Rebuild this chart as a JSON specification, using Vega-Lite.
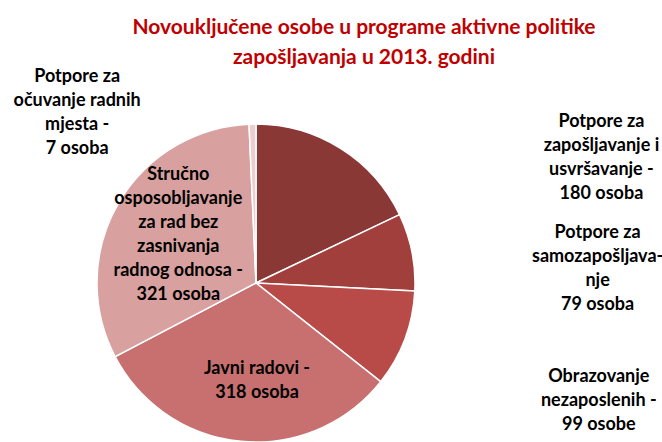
{
  "$schema": "https://vega.github.io/schema/vega-lite/v6.json",
  "width": 512,
  "height": 318,
  "autosize": {"type": "none"},
  "padding": {"left": 0, "top": 124, "right": 150, "bottom": 0},
  "background": "white",
  "config": {"view": {"stroke": null}},
  "title": {
    "text": ["Novouključene osobe u programe aktivne politike", "zapošljavanja u 2013. godini"],
    "color": "#C00000",
    "font": "Lato",
    "fontSize": 21,
    "fontWeight": "bold",
    "anchor": "middle",
    "dx": 108,
    "dy": 29,
    "lineHeight": 30,
    "offset": 29
  },
  "data": {
    "values": [
      {"kategorija": "Potpore za zapošljavanje i usavršavanje", "osobe": 180, "red": 1, "label": ["Potpore za", "zapošljavanje  i", "usvršavanje -", "180 osoba"]},
      {"kategorija": "Potpore za samozapošljavanje", "osobe": 79, "red": 2, "label": ["Potpore za", "samozapošljava-", "nje", "79 osoba"]},
      {"kategorija": "Obrazovanje nezaposlenih", "osobe": 99, "red": 3, "label": ["Obrazovanje", "nezaposlenih  -", "99 osobe"]},
      {"kategorija": "Javni radovi", "osobe": 318, "red": 4, "label": ["Javni radovi -", "318 osoba"]},
      {"kategorija": "Stručno osposobljavanje za rad bez zasnivanja radnog odnosa", "osobe": 321, "red": 5, "label": ["Stručno", "osposobljavanje", "za rad bez", "zasnivanja", "radnog odnosa -", "321 osoba"]},
      {"kategorija": "Potpore za očuvanje radnih mjesta", "osobe": 7, "red": 6, "label": ["Potpore za", "očuvanje radnih", "mjesta -", "7 osoba"]}
    ]
  },
  "encoding": {
    "theta": {"field": "osobe", "type": "quantitative", "stack": true},
    "order": {"field": "red", "type": "quantitative"}
  },
  "layer": [
    {
      "mark": {"type": "arc", "outerRadius": 159, "stroke": "white", "strokeWidth": 1.5},
      "encoding": {
        "color": {
          "field": "kategorija",
          "type": "nominal",
          "legend": null,
          "scale": {
            "domain": [
              "Potpore za zapošljavanje i usavršavanje",
              "Potpore za samozapošljavanje",
              "Obrazovanje nezaposlenih",
              "Javni radovi",
              "Stručno osposobljavanje za rad bez zasnivanja radnog odnosa",
              "Potpore za očuvanje radnih mjesta"
            ],
            "range": ["#8A3836", "#A13F3C", "#B84B47", "#C87070", "#D8A09F", "#EBCFCE"]
          }
        }
      }
    },
    {
      "mark": {"type": "text", "radius": 175, "dx": 252, "dy": -13, "font": "Lato", "fontSize": 18, "fontWeight": "bold", "lineHeight": 24, "align": "center", "baseline": "middle", "color": "black"},
      "encoding": {"text": {"condition": {"test": "datum.red === 1", "field": "label"}, "value": ""}}
    },
    {
      "mark": {"type": "text", "radius": 175, "dx": 170, "dy": -16, "font": "Lato", "fontSize": 18, "fontWeight": "bold", "lineHeight": 24, "align": "center", "baseline": "middle", "color": "black"},
      "encoding": {"text": {"condition": {"test": "datum.red === 2", "field": "label"}, "value": ""}}
    },
    {
      "mark": {"type": "text", "radius": 175, "dx": 179, "dy": 32, "font": "Lato", "fontSize": 18, "fontWeight": "bold", "lineHeight": 24, "align": "center", "baseline": "middle", "color": "black"},
      "encoding": {"text": {"condition": {"test": "datum.red === 3", "field": "label"}, "value": ""}}
    },
    {
      "mark": {"type": "text", "radius": 96, "dx": 10, "dy": -10, "font": "Lato", "fontSize": 18, "fontWeight": "bold", "lineHeight": 24, "align": "center", "baseline": "middle", "color": "black"},
      "encoding": {"text": {"condition": {"test": "datum.red === 4", "field": "label"}, "value": ""}}
    },
    {
      "mark": {"type": "text", "radius": 92, "dx": 2, "dy": -62, "font": "Lato", "fontSize": 18, "fontWeight": "bold", "lineHeight": 24, "align": "center", "baseline": "middle", "color": "black"},
      "encoding": {"text": {"condition": {"test": "datum.red === 5", "field": "label"}, "value": ""}}
    },
    {
      "mark": {"type": "text", "radius": 175, "dx": -175, "dy": -31, "font": "Lato", "fontSize": 18, "fontWeight": "bold", "lineHeight": 24, "align": "center", "baseline": "middle", "color": "black"},
      "encoding": {"text": {"condition": {"test": "datum.red === 6", "field": "label"}, "value": ""}}
    }
  ]
}
